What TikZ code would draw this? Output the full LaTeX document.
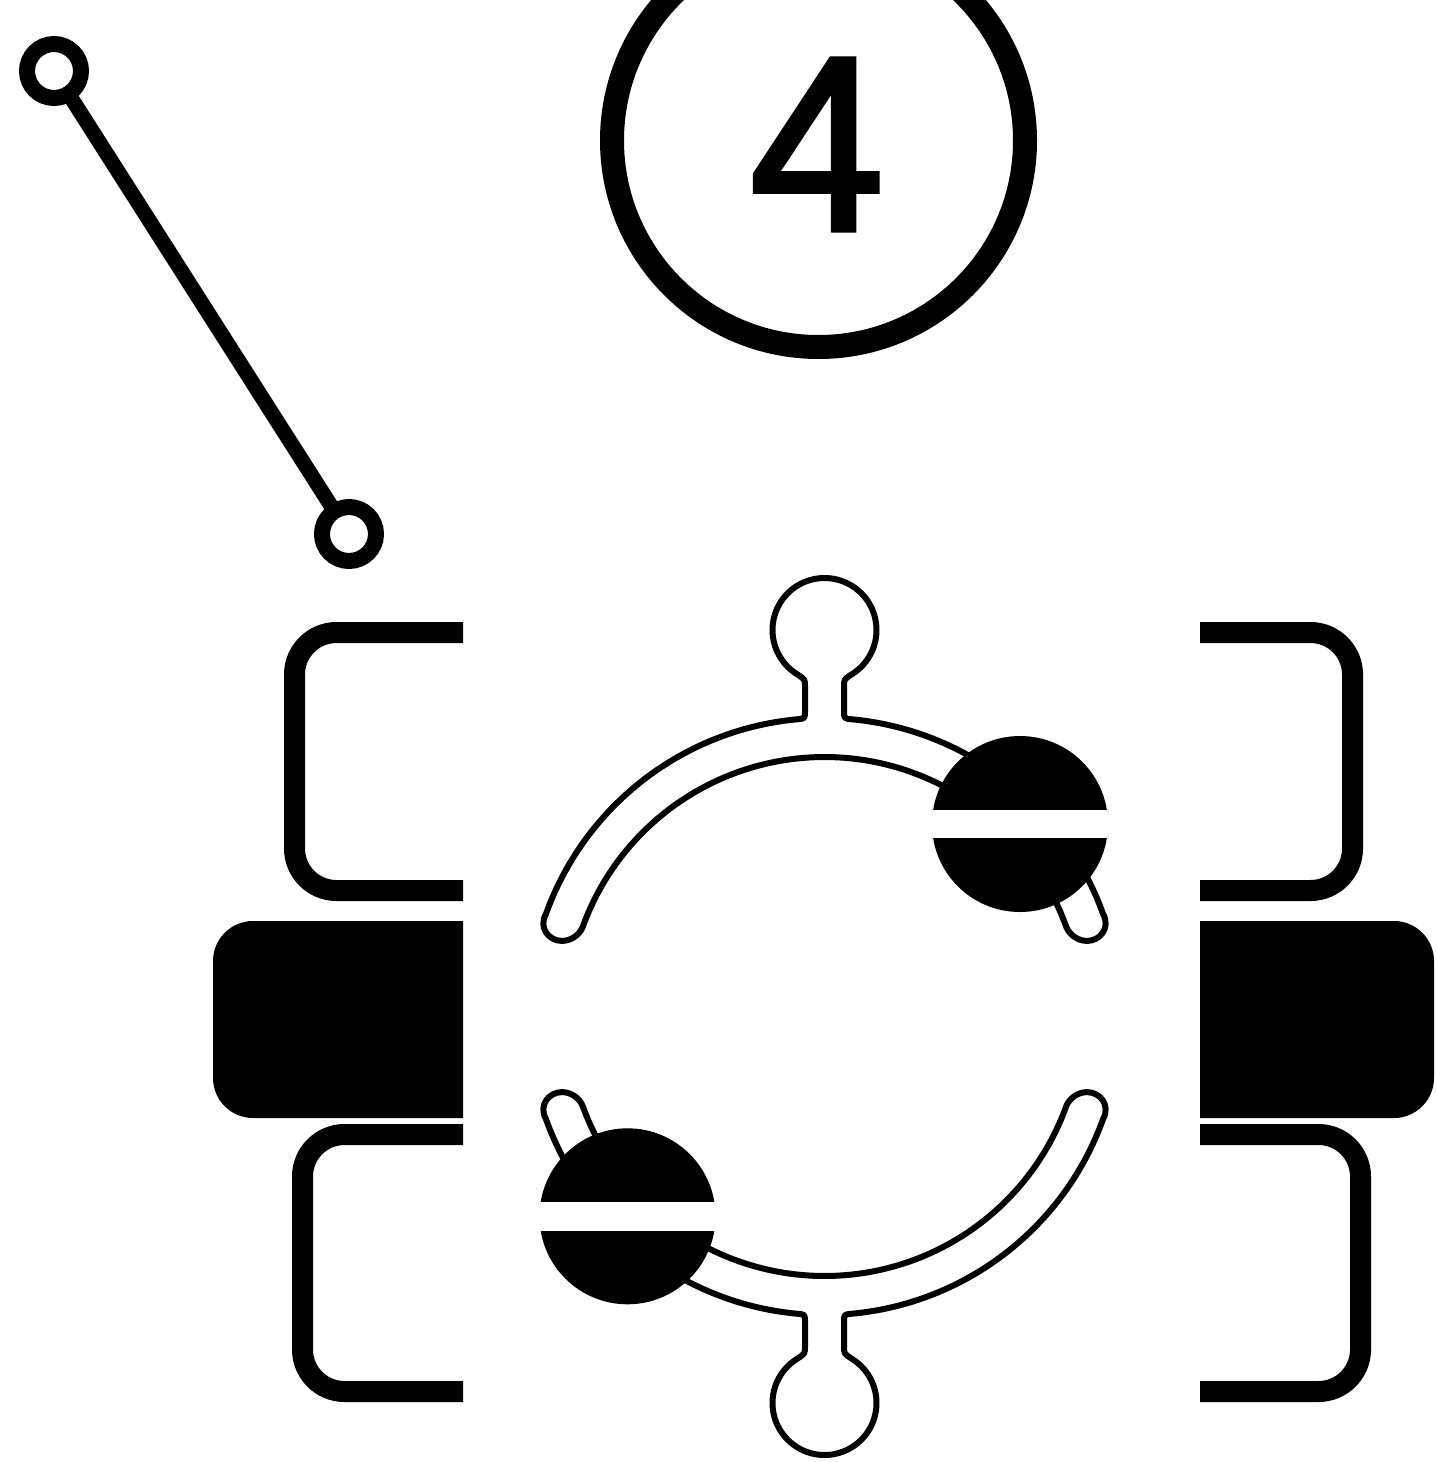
\documentclass[tikz,border=0pt]{standalone}
\usepackage{fontspec}
\newfontfamily\digitfont[FakeBold=2.2,FakeStretch=0.97]{Liberation Sans}
\tikzset{
  canvas/.style={x=1pt,y=-1pt},
  ring/.style={draw=black,fill=white,circle,inner sep=0pt,outer sep=0pt},
  pinring/.style={ring,minimum size=54pt,line width=16pt},
  pinrod/.style={draw=black,line width=15pt},
  bracket/.style={draw=black,line width=21pt,rounded corners=42pt},
  blackblock/.style={fill=black},
  bandline/.style={draw=black,fill=white,line width=6pt,line join=round},
  ballfill/.style={fill=black},
  ballbar/.style={fill=white}
}
\newcommand{\bandshape}{%
  \path[bandline]
    (-278.7,-102.3)
    .. controls (-286,-89) and (-276,-75.6) .. (-262.5,-75.6)
    .. controls (-254,-75.6) and (-245.5,-81) .. (-242,-89.1)
    -- plot[domain=160.3:19.7,samples=120] ({257*cos(\x)},{-2.5-257*sin(\x)})
    .. controls (245.5,-81) and (254,-75.6) .. (262.5,-75.6)
    .. controls (276,-75.6) and (286,-89) .. (278.7,-102.3)
    -- plot[domain=19.7:84.9,samples=60] ({296*cos(\x)},{-2.5-296*sin(\x)})
    .. controls (19.5,-298) .. (19.5,-306)
    -- (19.5,-330)
    .. controls (19.5,-337) .. (27.5,-342.4)
    -- plot[domain=-58:238,samples=100] ({52*cos(\x)},{-386.5-52*sin(\x)})
    .. controls (-19.5,-337) .. (-19.5,-330)
    -- (-19.5,-306)
    .. controls (-19.5,-298) .. (-26.3,-297.3)
    -- plot[domain=95.1:160.3,samples=60] ({296*cos(\x)},{-2.5-296*sin(\x)})
    -- cycle;
}
\begin{document}
\begin{tikzpicture}[canvas]
\path[use as bounding box,clip] (0,0) rectangle (1437,1462);
\fill[white] (0,0) rectangle (1437,1462);

% numbered badge
\node[ring,minimum size=413pt,line width=24pt] (badge) at (818.5,140.5) {};
\node[inner sep=0pt,outer sep=0pt] (digit) at (817,144.5) {\digitfont\fontsize{248}{248}\selectfont 4};

% pin
\node[pinring] (pinA) at (54,71) {};
\node[pinring] (pinB) at (349,534) {};
\draw[pinrod] (pinA) -- (pinB);

% brackets
\draw[bracket] (463,632.5) -- (294.5,632.5) -- (294.5,890.5) -- (463,890.5);
\draw[bracket] (463,1134.5) -- (302.5,1134.5) -- (302.5,1391.5) -- (463,1391.5);
\draw[bracket] (1200,632.5) -- (1352.5,632.5) -- (1352.5,890.5) -- (1200,890.5);
\draw[bracket] (1200,1134.5) -- (1360.5,1134.5) -- (1360.5,1391.5) -- (1200,1391.5);

% black blocks
\fill[blackblock] (463,921) -- (253,921) .. controls (231,921) and (213,939) .. (213,961)
  -- (213,1078) .. controls (213,1100) and (231,1118) .. (253,1118) -- (463,1118) -- cycle;
\fill[blackblock] (1200,921) -- (1394,921) .. controls (1416,921) and (1434,939) .. (1434,961)
  -- (1434,1078) .. controls (1434,1100) and (1416,1118) .. (1394,1118) -- (1200,1118) -- cycle;

% bands
\begin{scope}[shift={(824.5,1016.5)}]
  \bandshape
\end{scope}
\begin{scope}[shift={(824.5,1016.5)},yscale=-1]
  \bandshape
\end{scope}

% balls
\fill[ballfill] (1020,824) circle[radius=88pt];
\fill[ballbar] (925,810) rectangle (1115,838);
\fill[ballfill] (627.5,1216.3) circle[radius=88pt];
\fill[ballbar] (532,1202.3) rectangle (723,1230.7);
\end{tikzpicture}
\end{document}
